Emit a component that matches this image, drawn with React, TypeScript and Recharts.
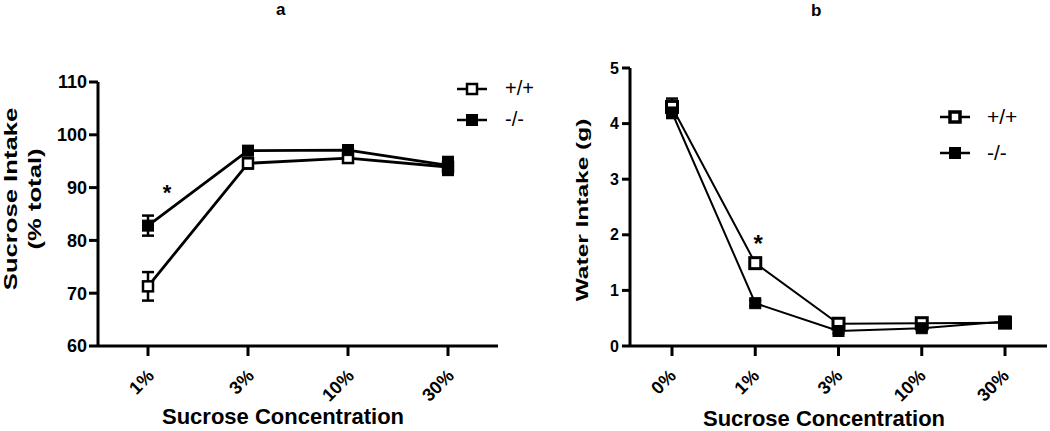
import { LineChart, Line, XAxis, YAxis, ErrorBar, Legend, ReferenceDot, Label } from "recharts"

const FONT = '"Liberation Sans", Arial, Helvetica, sans-serif'

// panel a: sucrose intake (% total)
const concA = ["1%", "3%", "10%", "30%"]
const wtA = [71.3, 94.6, 95.6, 93.9]
const wtAErr = [2.7, 1.0, 0.8, 1.5]
const koA = [82.8, 97.0, 97.1, 94.2]
const koAErr = [1.9, 0.8, 0.9, 1.6]
const ticksA = [60, 70, 80, 90, 100, 110]

// panel b: water intake (g)
const concB = ["0%", "1%", "3%", "10%", "30%"]
const wtB = [4.3, 1.49, 0.4, 0.41, 0.42]
const wtBErr = [0.15, 0.08, 0.05, 0.05, 0.05]
const koB = [4.2, 0.77, 0.27, 0.32, 0.44]
const koBErr = [0.1, 0.05, 0.04, 0.04, 0.05]
const ticksB = [0, 1, 2, 3, 4, 5]

const seriesNames = ["+/+", "-/-"]

const dataA = concA.map((c, i) => ({ conc: c, wt: wtA[i], wtErr: wtAErr[i], ko: koA[i], koErr: koAErr[i] }))
const dataB = concB.map((c, i) => ({ conc: c, wt: wtB[i], wtErr: wtBErr[i], ko: koB[i], koErr: koBErr[i] }))

const square = (filled: boolean, size: number, sw: number) => (p: any) => {
  if (p.cx == null || p.cy == null) return <g key={p.index} />
  return (
    <rect
      key={p.index}
      x={p.cx - size / 2}
      y={p.cy - size / 2}
      width={size}
      height={size}
      fill={filled ? "#000" : "#fff"}
      stroke="#000"
      strokeWidth={sw}
    />
  )
}

const xTick = (dx: number, dy: number) => (p: any) => {
  const x = p.x + dx
  const y = p.y + dy
  return (
    <text
      x={x}
      y={y}
      transform={`rotate(-45 ${x} ${y})`}
      textAnchor="end"
      fontFamily={FONT}
      fontWeight={700}
      fontSize={18}
      fill="#000"
    >
      {p.payload.value}
    </text>
  )
}

const legendContent = (rowH: number, gap: number, fontSize: number, openSw: number) => () => (
  <div style={{ fontFamily: FONT, fontSize, color: "#000" }}>
    {seriesNames.map((name, i) => (
      <div key={name} style={{ display: "flex", alignItems: "center", height: rowH }}>
        <svg width={30} height={16} style={{ marginRight: gap }}>
          <line x1={0} x2={30} y1={8} y2={8} stroke="#000" strokeWidth={2.5} />
          <rect
            x={10}
            y={3}
            width={10}
            height={10}
            fill={i === 0 ? "#fff" : "#000"}
            stroke="#000"
            strokeWidth={i === 0 ? openSw : 2}
          />
        </svg>
        <span>{name}</span>
      </div>
    ))}
  </div>
)

const star = (dx: number, dy: number, size: number) => (p: any) => (
  <text x={p.cx + dx} y={p.cy + dy} textAnchor="middle" fontFamily={FONT} fontWeight={700} fontSize={size} fill="#000">
    *
  </text>
)

const axisLine = { stroke: "#000", strokeWidth: 3 }

export default function App() {
  return (
    <div style={{ position: "absolute", left: 0, top: 0, width: 1050, height: 431, background: "#fff", overflow: "hidden" }}>
      <div style={{ position: "absolute", left: 276, top: 1, fontFamily: FONT, fontWeight: 700, fontSize: 17, lineHeight: "17px" }}>a</div>
      <div style={{ position: "absolute", left: 811, top: 2, fontFamily: FONT, fontWeight: 700, fontSize: 17, lineHeight: "17px" }}>b</div>

      <div style={{ position: "absolute", left: 0, top: 0 }}>
        <LineChart width={520} height={431} data={dataA} margin={{ top: 82, right: 22, bottom: 0, left: 0 }}>
          <XAxis
            dataKey="conc"
            height={85}
            padding={{ left: 50, right: 50 }}
            axisLine={axisLine}
            tickLine={axisLine}
            tickSize={10}
            tick={xTick(7, 19)}
            interval={0}
          >
            <Label
              content={() => (
                <text x={283} y={424} textAnchor="middle" fontFamily={FONT} fontWeight={700} fontSize={22} fill="#000">
                  Sucrose Concentration
                </text>
              )}
            />
          </XAxis>
          <YAxis
            width={98}
            domain={[60, 110]}
            ticks={ticksA}
            axisLine={axisLine}
            tickLine={axisLine}
            tickSize={9}
            tickMargin={2}
            tick={{ fontFamily: FONT, fontWeight: 700, fontSize: 18, fill: "#000" }}
          >
            <Label
              content={() => (
                <text
                  transform="translate(17,199) rotate(-90) scale(1.35,1)"
                  textAnchor="middle"
                  fontFamily={FONT}
                  fontWeight={700}
                  fontSize={19}
                  fill="#000"
                >
                  <tspan x={0} dy={0}>Sucrose Intake</tspan>
                  <tspan x={0} dy={24}>(% total)</tspan>
                </text>
              )}
            />
          </YAxis>
          <Legend
            layout="horizontal"
            verticalAlign="middle"
            align="center"
            wrapperStyle={{ position: "absolute", left: 457, top: 73, width: 90 }}
            content={legendContent(31, 18, 20, 2.5)}
          />
          <Line
            dataKey="wt"
            name={seriesNames[0]}
            stroke="#000"
            strokeWidth={2.8}
            isAnimationActive={false}
            dot={square(false, 10, 2.5)}
          >
            <ErrorBar dataKey="wtErr" direction="y" width={6} stroke="#000" strokeWidth={2.5} />
          </Line>
          <Line
            dataKey="ko"
            name={seriesNames[1]}
            stroke="#000"
            strokeWidth={2.8}
            isAnimationActive={false}
            dot={square(true, 11, 1)}
          >
            <ErrorBar dataKey="koErr" direction="y" width={6} stroke="#000" strokeWidth={2.5} />
          </Line>
          <ReferenceDot x="1%" y={90} r={0} shape={star(19, 12, 22)} />
        </LineChart>
      </div>

      <div style={{ position: "absolute", left: 530, top: 0 }}>
        <LineChart width={520} height={431} data={dataB} margin={{ top: 68, right: 3, bottom: 0, left: 0 }}>
          <XAxis
            dataKey="conc"
            height={85}
            padding={{ left: 42, right: 42 }}
            axisLine={axisLine}
            tickLine={axisLine}
            tickSize={10}
            tick={xTick(5, 19)}
            interval={0}
          >
            <Label
              content={() => (
                <text x={294} y={426} textAnchor="middle" fontFamily={FONT} fontWeight={700} fontSize={22} fill="#000">
                  Sucrose Concentration
                </text>
              )}
            />
          </XAxis>
          <YAxis
            width={100}
            domain={[0, 5]}
            ticks={ticksB}
            axisLine={axisLine}
            tickLine={axisLine}
            tickSize={8}
            tickMargin={3}
            tick={{ fontFamily: FONT, fontWeight: 700, fontSize: 16, fill: "#000" }}
          >
            <Label
              content={() => (
                <text
                  transform="translate(58,210) rotate(-90) scale(1.44,1)"
                  textAnchor="middle"
                  fontFamily={FONT}
                  fontWeight={700}
                  fontSize={17}
                  fill="#000"
                >
                  Water Intake (g)
                </text>
              )}
            />
          </YAxis>
          <Legend
            layout="horizontal"
            verticalAlign="middle"
            align="center"
            wrapperStyle={{ position: "absolute", left: 410, top: 99, width: 90 }}
            content={legendContent(36, 17, 21, 3.5)}
          />
          <Line
            dataKey="wt"
            name={seriesNames[0]}
            stroke="#000"
            strokeWidth={2}
            isAnimationActive={false}
            dot={square(false, 11, 3)}
          >
            <ErrorBar dataKey="wtErr" direction="y" width={6} stroke="#000" strokeWidth={2.5} />
          </Line>
          <Line
            dataKey="ko"
            name={seriesNames[1]}
            stroke="#000"
            strokeWidth={2}
            isAnimationActive={false}
            dot={square(true, 11, 1)}
          >
            <ErrorBar dataKey="koErr" direction="y" width={6} stroke="#000" strokeWidth={2.5} />
          </Line>
          <ReferenceDot x="1%" y={1.9} r={0} shape={star(3, 12, 24)} />
        </LineChart>
      </div>
    </div>
  )
}
